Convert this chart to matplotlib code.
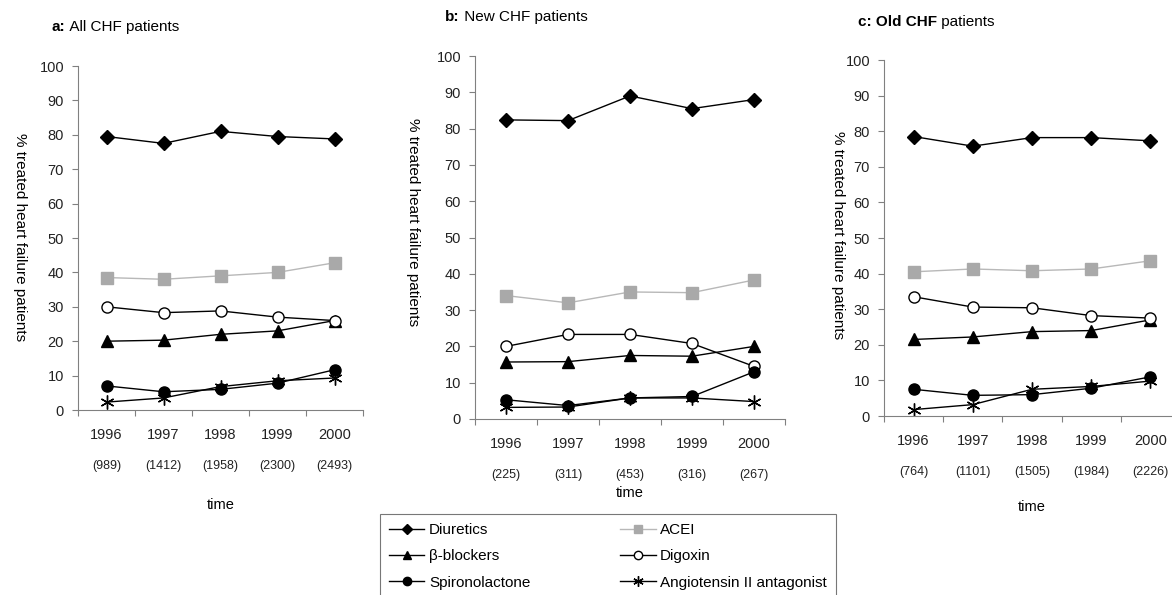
import matplotlib
matplotlib.use("Agg")
import matplotlib.pyplot as plt

plt.rcParams['font.family'] = ['Liberation Sans', 'DejaVu Sans']

# Data
years = ['1996', '1997', '1998', '1999', '2000']
series = ['Diuretics', 'ACEI', 'β-blockers', 'Digoxin', 'Spironolactone',
          'Angiotensin II antagonist']

n_all = ['(989)', '(1412)', '(1958)', '(2300)', '(2493)']
n_new = ['(225)', '(311)', '(453)', '(316)', '(267)']
n_old = ['(764)', '(1101)', '(1505)', '(1984)', '(2226)']

all_diuretics = [79.5, 77.5, 81.0, 79.5, 78.8]
all_acei = [38.5, 38.0, 39.0, 40.0, 42.8]
all_beta = [20.0, 20.3, 22.0, 23.0, 26.0]
all_digoxin = [30.0, 28.3, 28.8, 27.0, 26.0]
all_spiro = [7.0, 5.3, 6.0, 7.8, 11.7]
all_at2 = [2.3, 3.5, 6.8, 8.5, 9.3]

new_diuretics = [82.4, 82.2, 89.0, 85.5, 88.0]
new_acei = [34.0, 32.0, 35.0, 34.8, 38.3]
new_beta = [15.7, 15.8, 17.5, 17.3, 20.0]
new_digoxin = [20.0, 23.3, 23.3, 20.8, 14.5]
new_spiro = [5.3, 3.7, 5.8, 6.2, 13.0]
new_at2 = [3.2, 3.3, 5.8, 5.8, 4.8]

old_diuretics = [78.5, 75.8, 78.2, 78.2, 77.3]
old_acei = [40.5, 41.3, 40.8, 41.3, 43.6]
old_beta = [21.5, 22.2, 23.7, 24.0, 27.0]
old_digoxin = [33.5, 30.6, 30.4, 28.2, 27.5]
old_spiro = [7.5, 5.8, 6.0, 7.8, 11.0]
old_at2 = [1.8, 3.2, 7.5, 8.3, 9.8]

# gaya garis per seri
styles = [
    dict(color='black', lw=1, marker='D', ms=7, mfc='black', mec='black'),
    dict(color='#b8b8b8', lw=1, marker='s', ms=8, mfc='#a9a9a9', mec='#a9a9a9'),
    dict(color='black', lw=1, marker='^', ms=8, mfc='black', mec='black'),
    dict(color='black', lw=1, marker='o', ms=8, mfc='white', mec='black', mew=1),
    dict(color='black', lw=1, marker='o', ms=8, mfc='black', mec='black'),
    dict(color='black', lw=1, marker=(6, 2, 0), ms=10, mec='black', mew=1),
]

# (judul tebal, judul biasa, n, data, posisi axes, posisi judul, posisi label y, y "time")
panels = [
    ('a:', ' All CHF patients', n_all,
     [all_diuretics, all_acei, all_beta, all_digoxin, all_spiro, all_at2],
     [78/1172, 1 - 410/595, 285/1172, 344/595], (52, 27), (20, 237), 505),
    ('b:', ' New CHF patients', n_new,
     [new_diuretics, new_acei, new_beta, new_digoxin, new_spiro, new_at2],
     [475/1172, 1 - 419/595, 310/1172, 363/595], (445, 17), (413, 222), 493),
    ('c: Old CHF', ' patients', n_old,
     [old_diuretics, old_acei, old_beta, old_digoxin, old_spiro, old_at2],
     [884/1172, 1 - 416/595, 296/1172, 356/595], (858, 22), (838, 235), 507),
]

fig = plt.figure(figsize=(11.72, 5.95), dpi=100)
renderer = fig.canvas.get_renderer()
x = list(range(len(years)))

handles = []
for tbold, trest, counts, data, rect, tpos, ylpos, time_y in panels:
    ax = fig.add_axes(rect)
    lines = []
    for vals, st in zip(data, styles):
        ln, = ax.plot(x, vals, **st)
        lines.append(ln)
    handles = lines
    ax.set_xlim(-0.5, 4.5)
    ax.set_ylim(0, 100)
    ax.set_yticks(range(0, 101, 10))
    ax.set_xticks([i + 0.5 for i in range(-1, 5)])
    ax.set_xticklabels([])
    ax.tick_params(axis='x', direction='out', length=4, color='#808080')
    ax.tick_params(axis='y', direction='out', length=4, color='#808080',
                   labelsize=10.5, pad=6, labelcolor='#222222')
    for s in ['top', 'right']:
        ax.spines[s].set_visible(False)
    for s in ['left', 'bottom']:
        ax.spines[s].set_color('#808080')
    for i in x:
        ax.annotate(years[i], (i, 0), xytext=(0, -18), textcoords='offset points',
                    ha='center', va='center', fontsize=10.5, color='#222222',
                    annotation_clip=False)
        ax.annotate(counts[i], (i, 0), xytext=(0, -40), textcoords='offset points',
                    ha='center', va='center', fontsize=9, color='#222222',
                    annotation_clip=False)
    t1 = fig.text(tpos[0] / 1172, 1 - tpos[1] / 595, tbold, fontsize=11,
                  fontweight='bold', ha='left', va='center')
    w = t1.get_window_extent(renderer).width
    fig.text((tpos[0] + w) / 1172, 1 - tpos[1] / 595, trest, fontsize=11,
             ha='left', va='center')
    fig.text(ylpos[0] / 1172, 1 - ylpos[1] / 595, '% treated heart failure patients',
             rotation=270, fontsize=11, ha='center', va='center')
    fig.text((rect[0] + rect[2] / 2), 1 - time_y / 595, 'time', fontsize=10.5,
             ha='center', va='center')

# legenda
order = [0, 2, 4, 1, 3, 5]
leg = fig.legend([handles[i] for i in order], [series[i] for i in order],
                 loc='upper left', bbox_to_anchor=(380/1172, 1 - 514/595),
                 ncol=2, fontsize=11, frameon=True, fancybox=False,
                 handlelength=2.3, handletextpad=0.3, labelspacing=0.8,
                 columnspacing=5.9, borderpad=0.6, borderaxespad=0,
                 markerscale=0.75)
leg.get_frame().set_edgecolor('#555555')
leg.get_frame().set_linewidth(0.8)

plt.savefig('out.png', dpi=100)
